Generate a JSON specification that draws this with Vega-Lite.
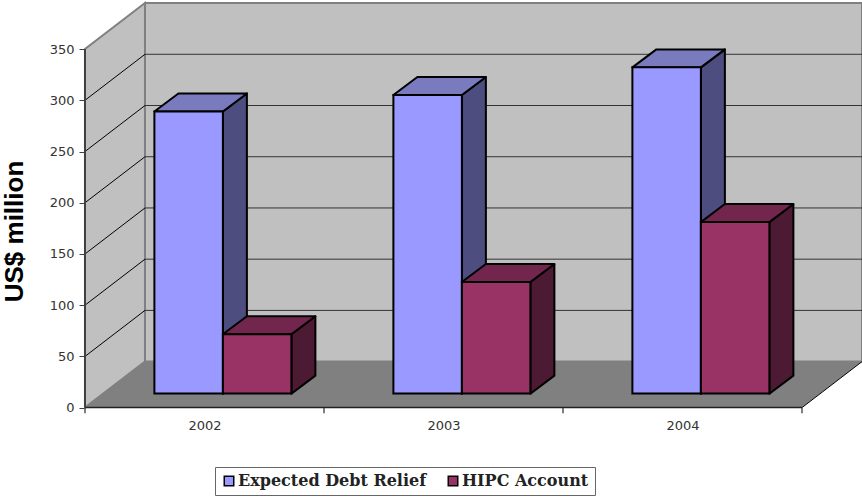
{
  "$schema": "https://vega.github.io/schema/vega-lite/v6.json",
  "width": 862,
  "height": 499,
  "padding": 0,
  "autosize": {"type": "none"},
  "background": "white",
  "datasets": {
    "bars": [
      {"year": 2002, "series": "Expected Debt Relief", "value": 275.5},
      {"year": 2003, "series": "Expected Debt Relief", "value": 291.5},
      {"year": 2004, "series": "Expected Debt Relief", "value": 318.5},
      {"year": 2002, "series": "HIPC Account", "value": 58},
      {"year": 2003, "series": "HIPC Account", "value": 109},
      {"year": 2004, "series": "HIPC Account", "value": 167.5}
    ],
    "ticks": [{"tick": 50}, {"tick": 100}, {"tick": 150}, {"tick": 200}, {"tick": 250}, {"tick": 300}],
    "bounds": [{"b": 2001.5}, {"b": 2002.5}, {"b": 2003.5}, {"b": 2004.5}],
    "depth": [{"d": 0}, {"d": 1}]
  },
  "layer": [
    {
      "data": {"values": [{}]},
      "mark": {"type": "rect", "fill": "#C0C0C0", "stroke": "#808080", "strokeWidth": 2, "xOffset": 60, "x2Offset": 60, "yOffset": -46, "y2Offset": -46},
      "encoding": {
        "x": {"datum": 2001.5, "type": "quantitative",
          "scale": {"domain": [2001.1444, 2004.7511], "nice": false, "zero": false},
          "axis": {"values": [2002, 2003, 2004], "format": "d", "offset": -92, "title": null, "ticks": false, "domain": false, "grid": false,
            "labelFont": "DejaVu Sans", "labelFontSize": 13, "labelColor": "#333", "labelPadding": 12, "labelFlush": false}},
        "x2": {"datum": 2004.5},
        "y": {"datum": 0, "type": "quantitative",
          "scale": {"domain": [-89.2, 397.9], "nice": false, "zero": false},
          "axis": {"values": [0, 50, 100, 150, 200, 250, 300, 350], "offset": -85, "domain": false, "grid": false, "tickSize": 6, "tickColor": "#404040",
            "labelFont": "DejaVu Sans", "labelFontSize": 13, "labelColor": "#333", "labelPadding": 5,
            "title": "US$ million", "titleFont": "Liberation Sans", "titleFontSize": 26, "titleFontWeight": "bold", "titleColor": "black", "titleX": -58, "titleY": 231}},
        "y2": {"datum": 350}
      }
    },
    {
      "data": {"name": "depth"},
      "transform": [
        {"calculate": "2001.5 + datum.d * 0.251", "as": "wx"},
        {"calculate": "datum.d * 44.9", "as": "low"},
        {"calculate": "350 + datum.d * 44.9", "as": "high"}
      ],
      "mark": {"type": "area", "fill": "#C0C0C0", "stroke": "#808080", "strokeWidth": 2},
      "encoding": {
        "x": {"field": "wx", "type": "quantitative"},
        "y": {"field": "low", "type": "quantitative"},
        "y2": {"field": "high"}
      }
    },
    {
      "data": {"name": "ticks"},
      "mark": {"type": "rule", "stroke": "#333", "strokeWidth": 1, "xOffset": 60, "x2Offset": 60, "yOffset": -46},
      "encoding": {
        "x": {"datum": 2001.5, "type": "quantitative"},
        "x2": {"datum": 2004.5},
        "y": {"field": "tick", "type": "quantitative"}
      }
    },
    {
      "data": {"name": "ticks"},
      "mark": {"type": "rule", "stroke": "black", "strokeWidth": 1, "x2Offset": 60, "y2Offset": -46},
      "encoding": {
        "x": {"datum": 2001.5, "type": "quantitative"},
        "x2": {"datum": 2001.5},
        "y": {"field": "tick", "type": "quantitative"},
        "y2": {"field": "tick"}
      }
    },
    {
      "data": {"name": "depth"},
      "transform": [
        {"calculate": "2001.5 + datum.d * 0.251", "as": "x0"},
        {"calculate": "2004.5 + datum.d * 0.251", "as": "x1"},
        {"calculate": "datum.d * 44.9", "as": "level"}
      ],
      "mark": {"type": "area", "orient": "horizontal", "fill": "#808080"},
      "encoding": {
        "y": {"field": "level", "type": "quantitative"},
        "x": {"field": "x0", "type": "quantitative"},
        "x2": {"field": "x1"}
      }
    },
    {
      "data": {"values": [{}]},
      "mark": {"type": "rule", "stroke": "black", "strokeWidth": 1, "x2Offset": 60, "y2Offset": -46},
      "encoding": {
        "x": {"datum": 2004.5, "type": "quantitative"},
        "x2": {"datum": 2004.5},
        "y": {"datum": 0, "type": "quantitative"},
        "y2": {"datum": 0}
      }
    },
    {
      "data": {"name": "bounds"},
      "mark": {"type": "rule", "stroke": "#555", "strokeWidth": 1.5},
      "encoding": {
        "x": {"field": "b", "type": "quantitative"},
        "y": {"datum": 0, "type": "quantitative"},
        "y2": {"datum": -5.5}
      }
    },
    {
      "data": {"values": [{}]},
      "mark": {"type": "rule", "stroke": "#222", "strokeWidth": 1.5},
      "encoding": {
        "x": {"datum": 2001.5, "type": "quantitative"},
        "x2": {"datum": 2004.5},
        "y": {"datum": 0, "type": "quantitative"}
      }
    },
    {
      "data": {"values": [{}]},
      "mark": {"type": "rule", "stroke": "#404040", "strokeWidth": 2},
      "encoding": {
        "x": {"datum": 2001.5, "type": "quantitative"},
        "y": {"datum": 0, "type": "quantitative"},
        "y2": {"datum": 350}
      }
    },
    {
      "data": {"name": "bars"},
      "transform": [
        {"calculate": "datum.year + 0.077 - (datum.series === 'HIPC Account' ? 0 : 0.2866)", "as": "left"},
        {"calculate": "datum.left + 0.2866", "as": "right"}
      ],
      "layer": [
        {
          "transform": [{"filter": "datum.series === 'Expected Debt Relief'"}],
          "layer": [
            {
              "transform": [
                {"calculate": "[0, 1]", "as": "d"}, {"flatten": ["d"]},
                {"calculate": "datum.right + datum.d * 0.1004", "as": "sx"},
                {"calculate": "13.6 + datum.d * 17.6", "as": "base"},
                {"calculate": "datum.value + datum.base", "as": "top"}
              ],
              "mark": {"type": "area", "fill": "#4D4D80", "stroke": "black", "strokeWidth": 2, "strokeJoin": "round"},
              "encoding": {
                "x": {"field": "sx", "type": "quantitative"},
                "y": {"field": "top", "type": "quantitative"},
                "y2": {"field": "base"},
                "detail": {"field": "year"}
              }
            },
            {
              "transform": [
                {"calculate": "[0, 1]", "as": "d"}, {"flatten": ["d"]},
                {"calculate": "datum.left + datum.d * 0.1004", "as": "tx0"},
                {"calculate": "datum.right + datum.d * 0.1004", "as": "tx1"},
                {"calculate": "datum.value + 13.6 + datum.d * 17.6", "as": "top"}
              ],
              "mark": {"type": "area", "orient": "horizontal", "fill": "#7A7ABF", "stroke": "black", "strokeWidth": 2, "strokeJoin": "round"},
              "encoding": {
                "y": {"field": "top", "type": "quantitative"},
                "x": {"field": "tx0", "type": "quantitative"},
                "x2": {"field": "tx1"},
                "detail": {"field": "year"}
              }
            },
            {
              "mark": {"type": "rect", "stroke": "black", "strokeWidth": 2, "yOffset": -14, "y2Offset": -14},
              "encoding": {
                "x": {"field": "left", "type": "quantitative"},
                "x2": {"field": "right"},
                "y": {"field": "value", "type": "quantitative"},
                "y2": {"datum": 0},
                "fill": {
                  "field": "series", "type": "nominal",
                  "scale": {"domain": ["Expected Debt Relief", "HIPC Account"], "range": ["#9999FF", "#993366"]},
                  "legend": {
                    "title": null, "orient": "none", "legendX": 215, "legendY": 467, "direction": "horizontal", "columns": 2,
                    "fillColor": "white", "strokeColor": "#666", "padding": 6, "columnPadding": 18,
                    "labelFont": "DejaVu Serif", "labelFontWeight": "bold", "labelFontSize": 16, "labelColor": "#222", "labelLimit": 300, "labelOffset": 1,
                    "symbolType": "square", "symbolSize": 90, "symbolStrokeColor": "black", "symbolStrokeWidth": 1.5
                  }
                }
              }
            }
          ]
        },
        {
          "transform": [{"filter": "datum.series === 'HIPC Account'"}],
          "layer": [
            {
              "transform": [
                {"calculate": "[0, 1]", "as": "d"}, {"flatten": ["d"]},
                {"calculate": "datum.right + datum.d * 0.1004", "as": "sx"},
                {"calculate": "13.6 + datum.d * 17.6", "as": "base"},
                {"calculate": "datum.value + datum.base", "as": "top"}
              ],
              "mark": {"type": "area", "fill": "#4D1A33", "stroke": "black", "strokeWidth": 2, "strokeJoin": "round"},
              "encoding": {
                "x": {"field": "sx", "type": "quantitative"},
                "y": {"field": "top", "type": "quantitative"},
                "y2": {"field": "base"},
                "detail": {"field": "year"}
              }
            },
            {
              "transform": [
                {"calculate": "[0, 1]", "as": "d"}, {"flatten": ["d"]},
                {"calculate": "datum.left + datum.d * 0.1004", "as": "tx0"},
                {"calculate": "datum.right + datum.d * 0.1004", "as": "tx1"},
                {"calculate": "datum.value + 13.6 + datum.d * 17.6", "as": "top"}
              ],
              "mark": {"type": "area", "orient": "horizontal", "fill": "#73264D", "stroke": "black", "strokeWidth": 2, "strokeJoin": "round"},
              "encoding": {
                "y": {"field": "top", "type": "quantitative"},
                "x": {"field": "tx0", "type": "quantitative"},
                "x2": {"field": "tx1"},
                "detail": {"field": "year"}
              }
            },
            {
              "mark": {"type": "rect", "stroke": "black", "strokeWidth": 2, "yOffset": -14, "y2Offset": -14},
              "encoding": {
                "x": {"field": "left", "type": "quantitative"},
                "x2": {"field": "right"},
                "y": {"field": "value", "type": "quantitative"},
                "y2": {"datum": 0},
                "fill": {"field": "series", "type": "nominal", "scale": {"domain": ["Expected Debt Relief", "HIPC Account"], "range": ["#9999FF", "#993366"]}}
              }
            }
          ]
        }
      ]
    }
  ],
  "config": {"view": {"stroke": null}}
}
